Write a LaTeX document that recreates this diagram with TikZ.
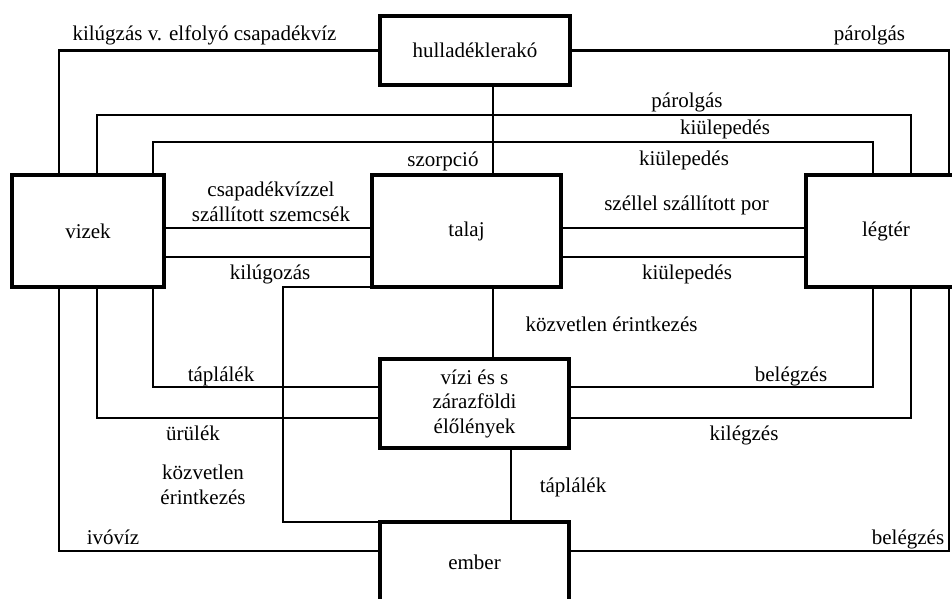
\documentclass[tikz,border=0pt]{standalone}
\usepackage{fontspec}
\setmainfont{Liberation Serif}
\begin{document}
\begin{tikzpicture}[x=1pt,y=-1pt,
  box/.style={draw,line width=4.5pt,rectangle,outer sep=0pt,inner sep=0pt,align=center},
  conn/.style={line width=2.7pt},
  lbl/.style={anchor=base,inner sep=0pt,align=center},
  lblc/.style={anchor=center,inner sep=0pt,align=center},
  font=\fontsize{21}{24.5}\selectfont]
\useasboundingbox (0,0) rectangle (952,599);
\clip (0,0) rectangle (952,599);
% boxes
\node[box,minimum width=190pt,minimum height=69pt] (hull) at (475,50.5) {hulladéklerakó};
\node[box,minimum width=152pt,minimum height=112pt] (vizek) at (88,231) {vizek};
\node[box,minimum width=189pt,minimum height=112pt] (talaj) at (466.5,231) {talaj};
\node[box,minimum width=160pt,minimum height=112pt] (legter) at (886,231) {légtér};
\node[box,minimum width=189pt,minimum height=89pt] (vizi) at (474.5,403.5) {vízi és s\\zárazföldi\\élőlények};
\node[box,minimum width=189pt,minimum height=80pt] (ember) at (474.5,562) {ember};
% connectors
\draw[conn] (hull.west) -| (59,0 |- vizek.north);
\draw[conn] (hull.east) -| (949,0 |- legter.north);
\draw[conn] (hull.south -| 493,0) -- (talaj.north -| 493,0);
\draw[conn] (vizek.north -| 97,0) -- (97,115) -- (911,115) -- (legter.north -| 911,0);
\draw[conn] (vizek.north -| 153,0) -- (153,142) -- (873,142) -- (legter.north -| 873,0);
\draw[conn] (vizek.east |- 0,228) -- (talaj.west |- 0,228);
\draw[conn] (vizek.east |- 0,257) -- (talaj.west |- 0,257);
\draw[conn] (talaj.east |- 0,228) -- (legter.west |- 0,228);
\draw[conn] (talaj.east |- 0,257) -- (legter.west |- 0,257);
\draw[conn] (talaj.south west) -- (283,0 |- talaj.south west) -- (283,0 |- ember.north west) -- (ember.north west);
\draw[conn] (talaj.south -| 493,0) -- (vizi.north -| 493,0);
\draw[conn] (vizek.south -| 59,0) -- (59,551) -- (ember.west |- 0,551);
\draw[conn] (vizek.south -| 97,0) -- (97,418) -- (vizi.west |- 0,418);
\draw[conn] (vizek.south -| 153,0) -- (153,387) -- (vizi.west |- 0,387);
\draw[conn] (legter.south -| 873,0) -- (873,387) -- (vizi.east |- 0,387);
\draw[conn] (legter.south -| 911,0) -- (911,418) -- (vizi.east |- 0,418);
\draw[conn] (legter.south -| 949,0) -- (949,551) -- (ember.east |- 0,551);
\draw[conn] (vizi.south -| 511,0) -- (ember.north -| 511,0);
% labels
\node[lbl] (l1) at (204.5,41) {kilúgzás v. elfolyó csapadékvíz};
\node[lbl] (l2) at (869.5,41) {párolgás};
\node[lbl] (l3) at (443,166) {szorpció};
\node[lbl] (l4) at (687,107) {párolgás};
\node[lbl] (l5) at (725,135) {kiülepedés};
\node[lbl] (l6) at (684,165) {kiülepedés};
\node[lblc] (l7) at (271,202) {csapadékvízzel\\szállított szemcsék};
\node[lbl] (l8) at (270,279) {kilúgozás};
\node[lbl] (l9) at (686.5,210) {széllel szállított por};
\node[lbl] (l10) at (687,279) {kiülepedés};
\node[lbl] (l11) at (611.5,331) {közvetlen érintkezés};
\node[lbl] (l12) at (221,381) {táplálék};
\node[lbl] (l13) at (791,381) {belégzés};
\node[lbl] (l14) at (193,440) {ürülék};
\node[lbl] (l15) at (744,440) {kilégzés};
\node[lblc] (l16) at (203,485) {közvetlen\\érintkezés};
\node[lbl] (l17) at (573,492) {táplálék};
\node[lbl] (l18) at (113,544) {ivóvíz};
\node[lbl] (l19) at (908,544) {belégzés};
\end{tikzpicture}
\end{document}
